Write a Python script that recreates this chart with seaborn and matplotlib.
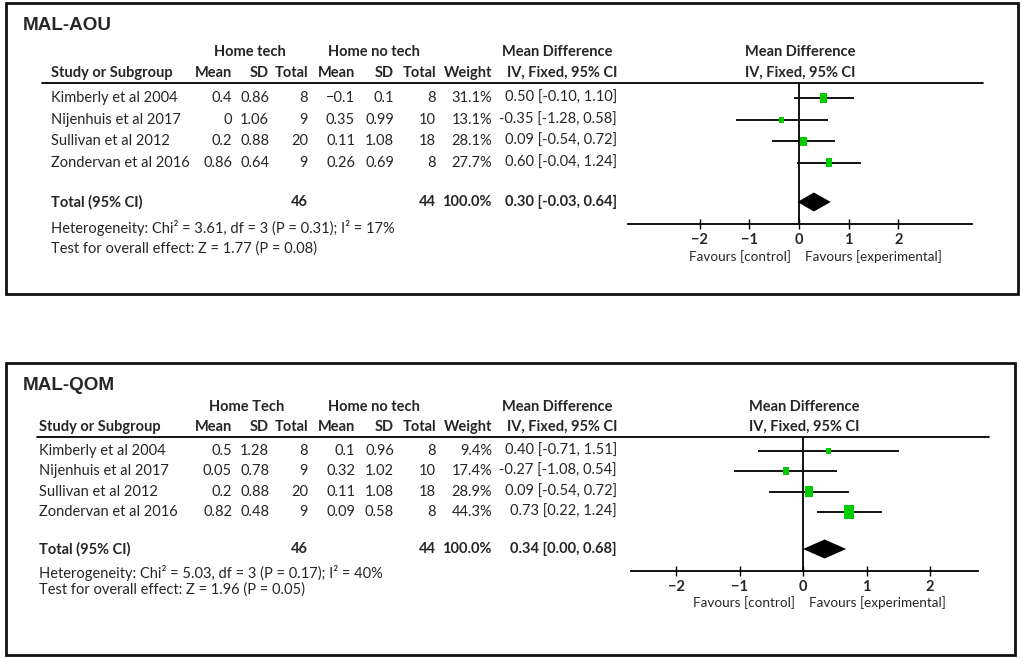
import numpy as np
import pandas as pd
import seaborn as sns
import matplotlib.pyplot as plt
from matplotlib import font_manager
from matplotlib.patches import Rectangle

# ---- data ----
studies = ["Kimberly et al 2004", "Nijenhuis et al 2017",
           "Sullivan et al 2012", "Zondervan et al 2016"]
col_heads = ["Mean", "SD", "Total", "Mean", "SD", "Total", "Weight", "IV, Fixed, 95% CI"]
ticks = [-2, -1, 0, 1, 2]

# MAL-AOU
aou_mean_t = [0.4, 0, 0.2, 0.86]
aou_sd_t = [0.86, 1.06, 0.88, 0.64]
aou_n_t = [8, 9, 20, 9]
aou_mean_c = [-0.1, 0.35, 0.11, 0.26]
aou_sd_c = [0.1, 0.99, 1.08, 0.69]
aou_n_c = [8, 10, 18, 8]
aou_weight = [31.1, 13.1, 28.1, 27.7]
aou_md = [0.50, -0.35, 0.09, 0.60]
aou_lo = [-0.10, -1.28, -0.54, -0.04]
aou_hi = [1.10, 0.58, 0.72, 1.24]
aou_total = [46, 44, 100.0, 0.30, -0.03, 0.64]
aou_het = "Heterogeneity: Chi\u00b2 = 3.61, df = 3 (P = 0.31); I\u00b2 = 17%"
aou_test = "Test for overall effect: Z = 1.77 (P = 0.08)"

# MAL-QOM
qom_mean_t = [0.5, 0.05, 0.2, 0.82]
qom_sd_t = [1.28, 0.78, 0.88, 0.48]
qom_n_t = [8, 9, 20, 9]
qom_mean_c = [0.1, 0.32, 0.11, 0.09]
qom_sd_c = [0.96, 1.02, 1.08, 0.58]
qom_n_c = [8, 10, 18, 8]
qom_weight = [9.4, 17.4, 28.9, 44.3]
qom_md = [0.40, -0.27, 0.09, 0.73]
qom_lo = [-0.71, -1.08, -0.54, 0.22]
qom_hi = [1.51, 0.54, 0.72, 1.24]
qom_total = [46, 44, 100.0, 0.34, 0.00, 0.68]
qom_het = "Heterogeneity: Chi\u00b2 = 5.03, df = 3 (P = 0.17); I\u00b2 = 40%"
qom_test = "Test for overall effect: Z = 1.96 (P = 0.05)"


def pick_font(names):
    for n in names:
        try:
            font_manager.findfont(font_manager.FontProperties(family=n),
                                  fallback_to_default=False)
            return n
        except ValueError:
            pass
    return "DejaVu Sans"


W, H = 1021, 658
GREEN = "#00cc00"

sns.set_theme(style="white")
body_font = pick_font(["Lato", "Open Sans", "Liberation Sans"])
title_font = pick_font(["Liberation Sans", "DejaVu Sans"])
plt.rcParams["font.family"] = [body_font, "DejaVu Sans"]
plt.rcParams["axes.unicode_minus"] = True

fig = plt.figure(figsize=(W / 100, H / 100), dpi=100)
canvas = fig.add_axes([0, 0, 1, 1])
canvas.set_xlim(0, W)
canvas.set_ylim(H, 0)
canvas.axis("off")

FS = 10.5
col_x = [232, 269, 308, 355, 394, 436, 492, 617]


def num(v):
    return f"{v:g}".replace("-", "\u2212")


def ci_text(m, l, h):
    return f"{m:.2f} [{l:.2f}, {h:.2f}]"


def make_df(mean_t, sd_t, n_t, mean_c, sd_c, n_c, weight, md, lo, hi):
    return pd.DataFrame({"study": studies, "mean_t": mean_t, "sd_t": sd_t, "n_t": n_t,
                         "mean_c": mean_c, "sd_c": sd_c, "n_c": n_c, "weight": weight,
                         "md": md, "lo": lo, "hi": hi, "row": np.arange(len(studies))})


def draw_panel(df, total, het, test, lay):
    # frame
    x0, y0, x1, y1 = lay["box"]
    canvas.add_patch(Rectangle((x0, y0), x1 - x0, y1 - y0, fill=False,
                               lw=2.0, ec="#111111"))
    canvas.text(23, lay["title_y"], lay["title"], fontsize=13.6, fontweight="bold",
                family=title_font, va="center", ha="left")

    # headers
    for txt, cx in zip(lay["groups"], lay["group_x"]):
        canvas.text(cx, lay["group_y"], txt, fontsize=FS, fontweight="bold",
                    ha="center", va="center")
    canvas.text(lay["study_x"], lay["head_y"], "Study or Subgroup", fontsize=FS,
                fontweight="bold", ha="left", va="center")
    for txt, cx in zip(col_heads, col_x):
        canvas.text(cx, lay["head_y"], txt, fontsize=FS, fontweight="bold",
                    ha="right", va="center")
    canvas.text(lay["fp_x"], lay["group_y"], "Mean Difference", fontsize=FS,
                fontweight="bold", ha="center", va="center")
    canvas.text(lay["fp_x"], lay["head_y"], "IV, Fixed, 95% CI", fontsize=FS,
                fontweight="bold", ha="center", va="center")
    canvas.plot([lay["line_x"][0], lay["line_x"][1]], [lay["line_y"]] * 2,
                color="black", lw=1.3)

    # study rows
    for _, r in df.iterrows():
        y = lay["row0"] + r["row"] * lay["step"]
        cells = [num(r["mean_t"]), num(r["sd_t"]), f"{int(r['n_t'])}",
                 num(r["mean_c"]), num(r["sd_c"]), f"{int(r['n_c'])}",
                 f"{r['weight']:.1f}%", ci_text(r["md"], r["lo"], r["hi"])]
        canvas.text(lay["study_x"], y, r["study"], fontsize=FS, ha="left", va="center")
        for txt, cx in zip(cells, col_x):
            canvas.text(cx, y, txt, fontsize=FS, ha="right", va="center")

    # total row
    ty = lay["total_y"]
    canvas.text(lay["study_x"], ty, "Total (95% CI)", fontsize=FS, fontweight="bold",
                ha="left", va="center")
    for txt, cx in zip([f"{total[0]}", f"{total[1]}", f"{total[2]:.1f}%",
                        ci_text(total[3], total[4], total[5])],
                       [col_x[2], col_x[5], col_x[6], col_x[7]]):
        canvas.text(cx, ty, txt, fontsize=FS, fontweight="bold", ha="right", va="center")
    canvas.text(lay["study_x"], lay["het_y"], het, fontsize=FS, ha="left", va="center")
    canvas.text(lay["study_x"], lay["test_y"], test, fontsize=FS, ha="left", va="center")

    # forest axes: pixel layout -> figure fraction
    fx0, fx1 = lay["axis_x"]
    zero, unit = lay["zero"], lay["unit"]
    ay, ly = lay["axis_y"], lay["line_y"]
    ax = fig.add_axes([fx0 / W, 1 - ay / H, (fx1 - fx0) / W, (ay - ly) / H])
    ax.patch.set_alpha(0)
    ax.set_xlim((fx0 - zero) / unit, (fx1 - zero) / unit)
    to_row = lambda px: (px - lay["row0"]) / lay["step"]
    ax.set_ylim(to_row(ay), to_row(ly))

    ax.axvline(0, color="black", lw=1.3, zorder=1)
    ax.hlines(df["row"], df["lo"], df["hi"], color="#111111", lw=1.4, zorder=2)
    k = lay["sq"]
    sizes = {w: (k * np.sqrt(w) * 0.72) ** 2 for w in df["weight"]}
    rect = [(-0.74, -1), (0.74, -1), (0.74, 1), (-0.74, 1), (-0.74, -1)]
    sns.scatterplot(data=df, x="md", y="row", size="weight", sizes=sizes,
                    marker=rect, color=GREEN, linewidth=0, legend=False,
                    ax=ax, zorder=3)
    # pooled diamond
    dy = to_row(ty)
    hh = 9.5 / lay["step"]
    ax.fill([total[4], total[3], total[5], total[3]], [dy, dy - hh, dy, dy + hh],
            color="black", lw=0, zorder=3)

    ax.set_xticks(ticks)
    ax.set_xticklabels([num(t) for t in ticks], fontsize=FS, fontweight="bold")
    ax.set_yticks([])
    ax.set_xlabel("")
    ax.set_ylabel("")
    for s in ["top", "left", "right"]:
        ax.spines[s].set_visible(False)
    ax.spines["bottom"].set_linewidth(1.3)
    ax.spines["bottom"].set_color("black")
    ax.tick_params(axis="x", direction="inout", length=7, width=1, color="black",
                   pad=3, bottom=True)
    ax.annotate("Favours [control]", xy=(0, 0), xycoords=("data", "axes fraction"),
                xytext=(-8, -lay["fav_dy"]), textcoords="offset pixels",
                ha="right", va="center", fontsize=9.7)
    ax.annotate("Favours [experimental]", xy=(0, 0), xycoords=("data", "axes fraction"),
                xytext=(6, -lay["fav_dy"]), textcoords="offset pixels",
                ha="left", va="center", fontsize=9.7)


aou = make_df(aou_mean_t, aou_sd_t, aou_n_t, aou_mean_c, aou_sd_c, aou_n_c,
              aou_weight, aou_md, aou_lo, aou_hi)
qom = make_df(qom_mean_t, qom_sd_t, qom_n_t, qom_mean_c, qom_sd_c, qom_n_c,
              qom_weight, qom_md, qom_lo, qom_hi)

lay_aou = dict(box=(6, 3, 1018, 294), title="MAL-AOU", title_y=26,
               groups=["Home tech", "Home no tech", "Mean Difference"],
               group_x=[250, 374, 557], group_y=52, head_y=73, study_x=51,
               fp_x=800, line_y=83, line_x=(42, 983), row0=98, step=21.6,
               total_y=202, het_y=228, test_y=249, axis_x=(628, 972),
               zero=799, unit=49.6, axis_y=224, fav_dy=33, sq=1.65)
lay_qom = dict(box=(6, 363, 1015, 655), title="MAL-QOM", title_y=386,
               groups=["Home Tech", "Home no tech", "Mean Difference"],
               group_x=[247, 374, 557], group_y=407, head_y=427, study_x=39,
               fp_x=804, line_y=437, line_x=(37, 989), row0=451, step=20.3,
               total_y=549, het_y=573, test_y=590, axis_x=(631, 978),
               zero=803, unit=63.5, axis_y=571, fav_dy=32, sq=2.0)

draw_panel(aou, aou_total, aou_het, aou_test, lay_aou)
draw_panel(qom, qom_total, qom_het, qom_test, lay_qom)

fig.savefig("out.png", dpi=100)
